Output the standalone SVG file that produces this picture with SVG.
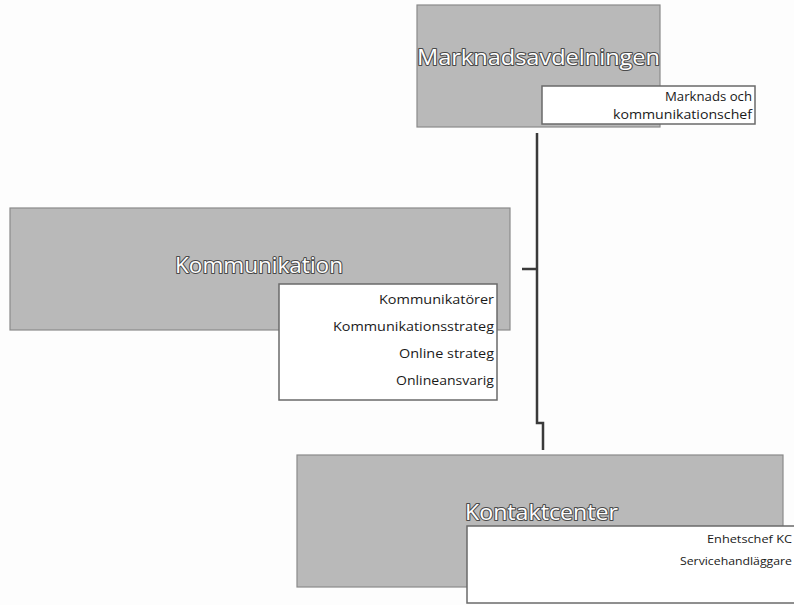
<svg xmlns="http://www.w3.org/2000/svg" width="794" height="605" viewBox="0 0 794 605">
<style>
.bg{fill:#fdfdfd}
.grey{fill:#b9b9b9;stroke:#8a8a8a;stroke-width:1.2}
.white{fill:#ffffff;stroke:#6a6a6a;stroke-width:1.5}
.title{font-family:"Open Sans","Liberation Sans",sans-serif;font-size:21px;fill:#ffffff;stroke:#4a4a4a;stroke-width:2;paint-order:stroke;stroke-linejoin:round}
.sub{font-family:"Open Sans","Liberation Sans",sans-serif;font-size:13px;fill:#1a1a1a;text-anchor:end}
.small{font-family:"Open Sans","Liberation Sans",sans-serif;font-size:11px;fill:#1a1a1a;text-anchor:end}
.conn{fill:none;stroke:#3a3a3a;stroke-width:2.5}
</style>
<rect class="bg" x="0" y="0" width="794" height="605"/>
<g id="connectors">
<path class="conn" d="M537,133 V423 H543 V450"/>
<path class="conn" d="M522,269 H537"/>
</g>
<g id="marknadsavdelningen">
<rect class="grey" x="417" y="5" width="243" height="122"/>
<text class="title" x="417" y="65" textLength="243" lengthAdjust="spacingAndGlyphs">Marknadsavdelningen</text>
<rect class="white" x="542" y="86" width="213" height="38"/>
<text class="sub" x="752" y="101" textLength="87" lengthAdjust="spacingAndGlyphs">Marknads och</text>
<text class="sub" x="752" y="119" textLength="139" lengthAdjust="spacingAndGlyphs">kommunikationschef</text>
</g>
<g id="kommunikation">
<rect class="grey" x="10" y="208" width="500" height="122"/>
<text class="title" x="175" y="273" textLength="168" lengthAdjust="spacingAndGlyphs">Kommunikation</text>
<rect class="white" x="279" y="284" width="218" height="116"/>
<text class="sub" x="494" y="304" textLength="115" lengthAdjust="spacingAndGlyphs">Kommunikatörer</text>
<text class="sub" x="494" y="331" textLength="161" lengthAdjust="spacingAndGlyphs">Kommunikationsstrateg</text>
<text class="sub" x="494" y="358" textLength="95" lengthAdjust="spacingAndGlyphs">Online strateg</text>
<text class="sub" x="494" y="385" textLength="98" lengthAdjust="spacingAndGlyphs">Onlineansvarig</text>
</g>
<g id="kontaktcenter">
<rect class="grey" x="297" y="455" width="486" height="132"/>
<text class="title" x="465" y="520" textLength="153" lengthAdjust="spacingAndGlyphs">Kontaktcenter</text>
<rect class="white" x="467" y="526" width="330" height="77"/>
<text class="small" x="792" y="543" textLength="85" lengthAdjust="spacingAndGlyphs">Enhetschef KC</text>
<text class="small" x="792" y="565" textLength="112" lengthAdjust="spacingAndGlyphs">Servicehandläggare</text>
</g>
</svg>
